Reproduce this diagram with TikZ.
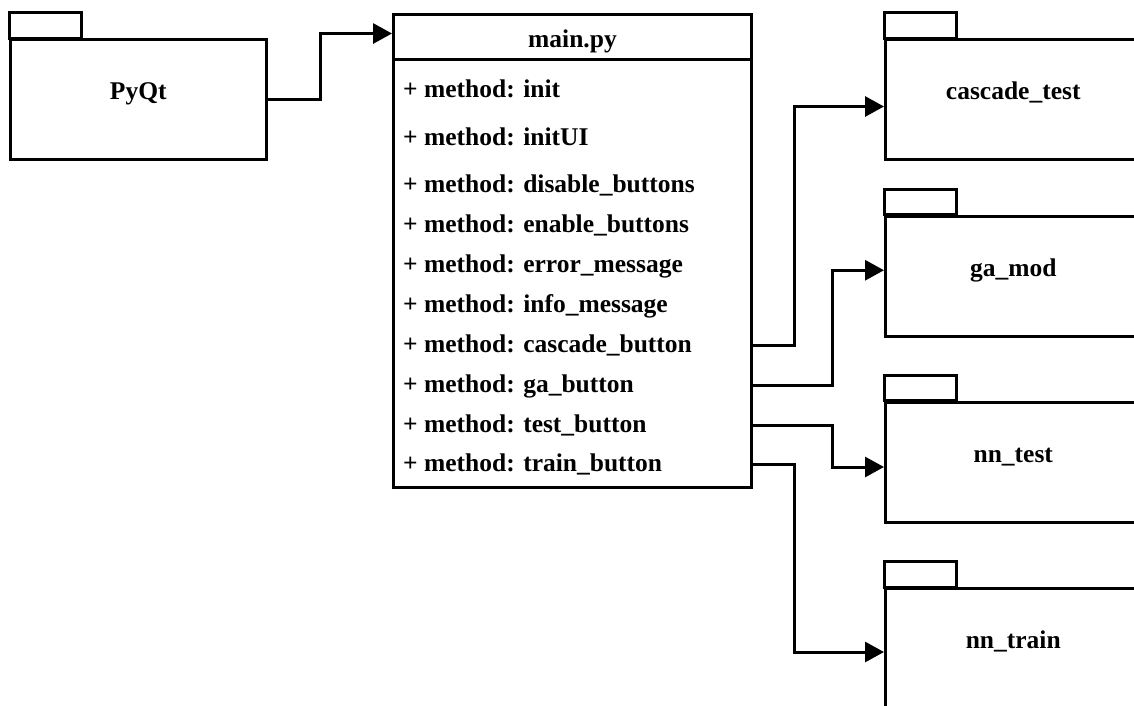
\documentclass[tikz,border=0pt]{standalone}
\usepackage{fontspec}
\setmainfont{Liberation Serif}
\usepackage{tikz}
\usetikzlibrary{arrows.meta,positioning}

\begin{document}
\begin{tikzpicture}[
  x=1pt,y=-1pt,
  font=\fontsize{25.5}{30}\selectfont\bfseries,
  ln/.style={line width=3pt,draw=black},
  pkg/.style={ln,minimum width=255.5pt,minimum height=120pt,inner sep=0pt,text height=17pt,text depth=17pt},
  cls/.style={ln,minimum width=358pt,minimum height=473.5pt,inner sep=0pt},
  meth/.style={anchor=base west,inner sep=0pt,text height=14pt,text depth=0pt},
  ar/.style={ln,-{Triangle[length=19pt,width=20pt]}}
]
\path[use as bounding box,clip] (0,0) rectangle (1134,705);

% packages
\node[pkg] (pyqt) at (138.25,99.5) {PyQt};
\node[pkg] (ct) at (1013.25,99.5) {cascade\_test};
\node[pkg] (ga) at (1013.25,276.25) {ga\_mod};
\node[pkg] (nt) at (1013.25,462) {nn\_test};
\node[pkg] (nr) at (1013.25,648.5) {nn\_train};
\foreach \p in {pyqt,ct,ga,nt,nr}
  \draw[ln] (\p.north west) rectangle ++(72.5,-25.5);

% class main.py
\node[cls] (main) at (572.5,250.75) {};
\draw[ln] ([yshift=-47pt]main.north west) -- ([yshift=-47pt]main.north east);
\node[anchor=base,inner sep=0pt] (title) at (572.5,47) {main.py};
\foreach \txt/\y [count=\i] in {init/97,initUI/145,disable\_buttons/192,enable\_buttons/232,
    error\_message/272,info\_message/312,cascade\_button/352,ga\_button/392,test\_button/432,train\_button/471}
  \node[meth] (m\i) at (403,\y) {+ method: \txt};

% connectors
\draw[ar] (pyqt.east) -- ++(52.5,0) |- ([yshift=-21pt]main.north west);
\draw[ar] (main.east |- m7) -- ++(41.5,0) |- ([yshift=-7pt]ct.west);
\draw[ar] (main.east |- m8) -- ++(79.5,0) |- ([yshift=6pt]ga.west);
\draw[ar] (main.east |- m9) -- ++(79.5,0) |- ([yshift=-5pt]nt.west);
\draw[ar] (main.east |- m10) -- ++(41.5,0) |- ([yshift=-3.5pt]nr.west);
\end{tikzpicture}
\end{document}
